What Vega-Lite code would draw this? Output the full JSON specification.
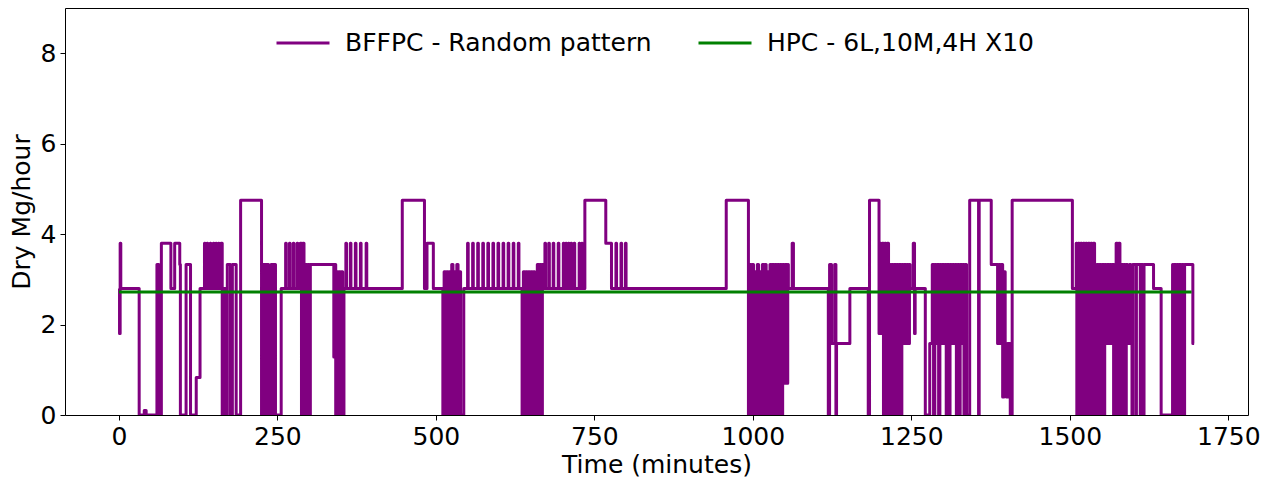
{
  "$schema": "https://vega.github.io/schema/vega-lite/v6.json",
  "width": 1183,
  "height": 407,
  "autosize": "none",
  "padding": {"left": 65, "top": 8, "right": 23, "bottom": 63},
  "background": "white",
  "config": {
    "font": "DejaVu Sans",
    "view": {"stroke": "black", "strokeWidth": 1},
    "axis": {
      "domain": false, "grid": false,
      "ticks": true, "tickColor": "black", "tickSize": 5, "tickWidth": 1,
      "labelFont": "DejaVu Sans", "labelFontSize": 25, "labelColor": "black",
      "titleFont": "DejaVu Sans", "titleFontSize": 25, "titleFontWeight": "normal", "titleColor": "black"
    },
    "legend": {
      "orient": "none", "direction": "horizontal", "legendX": 210, "legendY": 7,
      "title": null, "symbolType": "stroke", "symbolStrokeWidth": 3, "symbolSize": 2809,
      "labelFont": "DejaVu Sans", "labelFontSize": 25, "labelColor": "black",
      "labelOffset": 14, "columnPadding": 40, "padding": 0, "labelLimit": 0
    }
  },
  "datasets": {
    "bffpc": [
      {"t":0,"v":2.8},{"t":1,"v":1.8},{"t":2,"v":3.8},{"t":3,"v":2.8},{"t":32,"v":0},{"t":40,"v":0.1},{"t":43,"v":0},{"t":60,"v":3.33},{"t":63,"v":0},{"t":67,"v":3.8},{"t":82,"v":2.8},{"t":88,"v":3.8},{"t":96,"v":3.33},{"t":97,"v":0},{"t":106,"v":3.33},{"t":113,"v":0},{"t":122,"v":0.83},{"t":128,"v":2.8},
      {"t":135,"v":3.8},{"t":136,"v":2.8},{"t":139,"v":3.8},{"t":140,"v":2.8},{"t":144,"v":3.8},{"t":145,"v":2.8},{"t":149,"v":3.8},{"t":150,"v":2.8},{"t":153,"v":3.8},{"t":154,"v":2.8},{"t":157,"v":3.8},{"t":158,"v":2.8},{"t":161,"v":3.8},
      {"t":163,"v":0},{"t":164,"v":2.8},{"t":165,"v":0},{"t":166,"v":2.8},{"t":167,"v":0},{"t":168,"v":2.8},{"t":169,"v":0},{"t":171,"v":3.33},{"t":176,"v":0},{"t":179,"v":3.33},{"t":185,"v":0},{"t":192,"v":4.75},
      {"t":225,"v":0},{"t":226,"v":3.33},{"t":227,"v":0},{"t":228,"v":3.33},{"t":229,"v":0},{"t":230,"v":3.33},{"t":231,"v":0},{"t":232,"v":3.33},{"t":233,"v":0},{"t":234,"v":3.33},{"t":236,"v":0},{"t":240,"v":3.33},{"t":241,"v":0},{"t":242,"v":3.33},{"t":243,"v":0},{"t":244,"v":3.33},{"t":245,"v":0},{"t":246,"v":3.33},{"t":247,"v":0},
      {"t":256,"v":2.8},{"t":263,"v":3.8},{"t":264,"v":2.8},{"t":269,"v":3.8},{"t":270,"v":2.8},{"t":275,"v":3.8},{"t":276,"v":2.8},{"t":281,"v":3.8},{"t":282,"v":2.8},{"t":286,"v":3.8},
      {"t":288,"v":0},{"t":290,"v":3.8},{"t":292,"v":0},{"t":294,"v":3.33},{"t":296,"v":0},{"t":298,"v":3.33},{"t":300,"v":0},{"t":302,"v":3.33},
      {"t":339,"v":1.28},{"t":340,"v":3.33},{"t":342,"v":0},{"t":343,"v":3.17},{"t":345,"v":0},{"t":347,"v":3.17},{"t":349,"v":0},{"t":351,"v":3.17},{"t":353,"v":0},
      {"t":355,"v":2.8},{"t":358,"v":3.8},{"t":359,"v":2.8},{"t":365,"v":3.8},{"t":366,"v":2.8},{"t":373,"v":3.8},{"t":374,"v":2.8},{"t":381,"v":3.8},{"t":382,"v":2.8},{"t":390,"v":3.8},{"t":391,"v":2.8},
      {"t":447,"v":4.75},{"t":482,"v":2.8},{"t":486,"v":3.8},{"t":496,"v":2.8},
      {"t":511,"v":0},{"t":513,"v":3.17},{"t":515,"v":0},{"t":517,"v":3.17},{"t":519,"v":0},{"t":521,"v":3.17},{"t":523,"v":0},{"t":525,"v":3.33},{"t":527,"v":0},{"t":529,"v":3.17},{"t":531,"v":0},{"t":533,"v":3.33},{"t":535,"v":0},{"t":537,"v":3.17},{"t":539,"v":0},
      {"t":544,"v":2.8},{"t":550,"v":3.8},{"t":551,"v":2.8},{"t":558,"v":3.8},{"t":559,"v":2.8},{"t":566,"v":3.8},{"t":567,"v":2.8},{"t":574,"v":3.8},{"t":575,"v":2.8},{"t":582,"v":3.8},{"t":583,"v":2.8},{"t":590,"v":3.8},{"t":591,"v":2.8},{"t":598,"v":3.8},{"t":599,"v":2.8},{"t":606,"v":3.8},{"t":607,"v":2.8},{"t":614,"v":3.8},{"t":615,"v":2.8},{"t":622,"v":3.8},{"t":623,"v":2.8},{"t":630,"v":3.8},{"t":631,"v":2.8},
      {"t":636,"v":0},{"t":638,"v":3.17},{"t":640,"v":0},{"t":642,"v":3.17},{"t":644,"v":0},{"t":646,"v":3.17},{"t":648,"v":0},{"t":650,"v":3.17},{"t":652,"v":0},{"t":654,"v":3.17},{"t":656,"v":0},{"t":660,"v":3.33},{"t":662,"v":0},{"t":664,"v":3.33},{"t":666,"v":0},{"t":668,"v":3.33},
      {"t":670,"v":2.8},{"t":672,"v":3.8},{"t":673,"v":2.8},{"t":678,"v":3.8},{"t":679,"v":2.8},{"t":685,"v":3.8},{"t":686,"v":2.8},{"t":693,"v":3.8},{"t":694,"v":2.8},{"t":701,"v":3.8},{"t":702,"v":2.8},{"t":705,"v":3.8},{"t":706,"v":2.8},{"t":709,"v":3.8},{"t":710,"v":2.8},{"t":713,"v":3.8},{"t":714,"v":2.8},{"t":718,"v":3.8},{"t":719,"v":2.8},{"t":726,"v":3.8},{"t":727,"v":2.8},{"t":730,"v":3.8},{"t":731,"v":2.8},
      {"t":735,"v":4.75},{"t":768,"v":3.8},{"t":777,"v":2.8},{"t":784,"v":3.8},{"t":785,"v":2.8},{"t":792,"v":3.8},{"t":793,"v":2.8},{"t":799,"v":3.8},{"t":800,"v":2.8},{"t":958,"v":4.75},
      {"t":993,"v":0},{"t":995,"v":3.33},{"t":997,"v":0},{"t":999,"v":3.33},{"t":1001,"v":0},{"t":1003,"v":3.17},{"t":1005,"v":0},{"t":1007,"v":3.33},{"t":1009,"v":0},{"t":1011,"v":3.17},{"t":1013,"v":0},{"t":1015,"v":3.33},{"t":1017,"v":0},{"t":1019,"v":3.33},{"t":1021,"v":0},{"t":1023,"v":3.17},{"t":1025,"v":0},{"t":1027,"v":3.33},{"t":1029,"v":0},{"t":1031,"v":3.33},{"t":1033,"v":0},{"t":1035,"v":3.33},{"t":1037,"v":0},{"t":1039,"v":3.33},{"t":1041,"v":0},{"t":1043,"v":3.33},{"t":1045,"v":0},{"t":1047,"v":3.33},{"t":1049,"v":0.7},{"t":1051,"v":3.33},{"t":1053,"v":0.7},{"t":1055,"v":3.33},
      {"t":1056,"v":2.8},{"t":1062,"v":3.8},{"t":1064,"v":2.8},{"t":1119,"v":0},{"t":1121,"v":3.33},{"t":1124,"v":1.58},{"t":1129,"v":3.33},{"t":1131,"v":0},{"t":1132,"v":1.58},{"t":1153,"v":2.8},{"t":1182,"v":0},{"t":1184,"v":4.75},
      {"t":1199,"v":1.8},{"t":1200,"v":3.8},{"t":1202,"v":1.8},{"t":1204,"v":3.8},{"t":1206,"v":0},{"t":1208,"v":3.8},{"t":1210,"v":0},{"t":1212,"v":3.8},{"t":1214,"v":0},
      {"t":1216,"v":3.33},{"t":1217,"v":0},{"t":1219,"v":3.33},{"t":1221,"v":0},{"t":1223,"v":3.33},{"t":1225,"v":0},{"t":1227,"v":3.33},{"t":1229,"v":0},{"t":1231,"v":3.33},{"t":1233,"v":0},{"t":1235,"v":3.33},{"t":1237,"v":1.58},{"t":1239,"v":3.33},{"t":1241,"v":1.58},{"t":1243,"v":3.33},{"t":1245,"v":1.58},{"t":1247,"v":3.33},
      {"t":1248,"v":2.8},{"t":1253,"v":3.8},{"t":1255,"v":1.8},{"t":1256,"v":2.8},{"t":1272,"v":0},{"t":1279,"v":1.58},
      {"t":1283,"v":3.33},{"t":1285,"v":0},{"t":1287,"v":3.33},{"t":1289,"v":1.58},{"t":1291,"v":3.33},{"t":1293,"v":0},{"t":1295,"v":3.33},{"t":1297,"v":1.58},{"t":1299,"v":3.33},{"t":1301,"v":1.58},{"t":1303,"v":3.33},{"t":1305,"v":0},{"t":1307,"v":3.33},{"t":1309,"v":0},{"t":1311,"v":3.33},{"t":1313,"v":1.58},{"t":1315,"v":3.33},{"t":1317,"v":1.58},{"t":1319,"v":3.33},{"t":1321,"v":0},{"t":1323,"v":3.33},{"t":1325,"v":0},{"t":1327,"v":3.33},{"t":1329,"v":1.58},{"t":1331,"v":3.33},{"t":1333,"v":0},{"t":1335,"v":3.33},{"t":1337,"v":0},
      {"t":1342,"v":4.75},{"t":1356,"v":0},{"t":1357,"v":4.75},{"t":1376,"v":3.33},{"t":1386,"v":1.58},{"t":1388,"v":3.33},{"t":1390,"v":1.58},{"t":1392,"v":3.33},{"t":1394,"v":0.4},{"t":1396,"v":3.17},{"t":1398,"v":1.58},{"t":1400,"v":0.4},{"t":1402,"v":1.58},{"t":1406,"v":0},
      {"t":1409,"v":4.75},{"t":1504,"v":2.8},
      {"t":1510,"v":3.8},{"t":1511,"v":0},{"t":1513,"v":3.8},{"t":1515,"v":0},{"t":1517,"v":3.8},{"t":1519,"v":0},{"t":1521,"v":3.8},{"t":1523,"v":0},{"t":1525,"v":3.8},{"t":1527,"v":0},{"t":1529,"v":3.8},{"t":1531,"v":0},{"t":1533,"v":3.8},{"t":1535,"v":0},{"t":1537,"v":3.8},{"t":1539,"v":0},
      {"t":1540,"v":3.33},{"t":1541,"v":0},{"t":1543,"v":3.33},{"t":1545,"v":0},{"t":1547,"v":3.33},{"t":1549,"v":0},{"t":1551,"v":3.33},{"t":1553,"v":0},{"t":1555,"v":3.33},{"t":1557,"v":1.58},{"t":1559,"v":3.33},{"t":1561,"v":1.58},{"t":1563,"v":3.33},{"t":1565,"v":1.58},{"t":1567,"v":3.33},{"t":1569,"v":0},{"t":1571,"v":3.33},{"t":1573,"v":3.8},{"t":1575,"v":0},{"t":1577,"v":3.8},{"t":1579,"v":0},{"t":1581,"v":3.33},{"t":1583,"v":0},
      {"t":1585,"v":3.33},{"t":1587,"v":0},{"t":1589,"v":3.33},{"t":1591,"v":1.58},{"t":1594,"v":3.33},{"t":1596,"v":1.58},{"t":1598,"v":0},{"t":1599,"v":3.33},{"t":1604,"v":0},{"t":1605,"v":3.33},{"t":1611,"v":0},{"t":1612,"v":3.33},{"t":1615,"v":0},{"t":1617,"v":3.33},{"t":1632,"v":2.8},{"t":1644,"v":0},
      {"t":1662,"v":3.33},{"t":1663,"v":0},{"t":1665,"v":3.33},{"t":1667,"v":0},{"t":1669,"v":3.33},{"t":1671,"v":0},{"t":1673,"v":3.33},{"t":1675,"v":0},{"t":1677,"v":3.33},{"t":1679,"v":0},{"t":1681,"v":3.33},{"t":1694,"v":1.58},{"t":1696,"v":1.58}
    ],
    "hpc": [
      {"t":0,"v":2.72},{"t":1692,"v":2.72}
    ]
  },
  "encoding": {
    "x": {
      "field": "t", "type": "quantitative",
      "scale": {"domain": [-85, 1781], "nice": false, "zero": false},
      "axis": {"values": [0, 250, 500, 750, 1000, 1250, 1500, 1750], "format": "d", "title": "Time (minutes)", "labelPadding": 4, "titlePadding": 3}
    },
    "y": {
      "field": "v", "type": "quantitative",
      "scale": {"domain": [0, 9], "nice": false, "zero": true},
      "axis": {"values": [0, 2, 4, 6, 8], "format": "d", "title": "Dry Mg/hour", "labelPadding": 4, "titlePadding": 6}
    }
  },
  "layer": [
    {
      "data": {"name": "bffpc"},
      "mark": {"type": "line", "interpolate": "step-after", "strokeWidth": 3, "strokeJoin": "round", "clip": true},
      "encoding": {
        "color": {
          "datum": "BFFPC - Random pattern", "type": "nominal",
          "scale": {"domain": ["BFFPC - Random pattern", "HPC - 6L,10M,4H X10"], "range": ["#800080", "#008000"]}
        }
      }
    },
    {
      "data": {"name": "hpc"},
      "mark": {"type": "line", "strokeWidth": 3, "clip": true},
      "encoding": {
        "color": {"datum": "HPC - 6L,10M,4H X10", "type": "nominal"}
      }
    }
  ]
}
